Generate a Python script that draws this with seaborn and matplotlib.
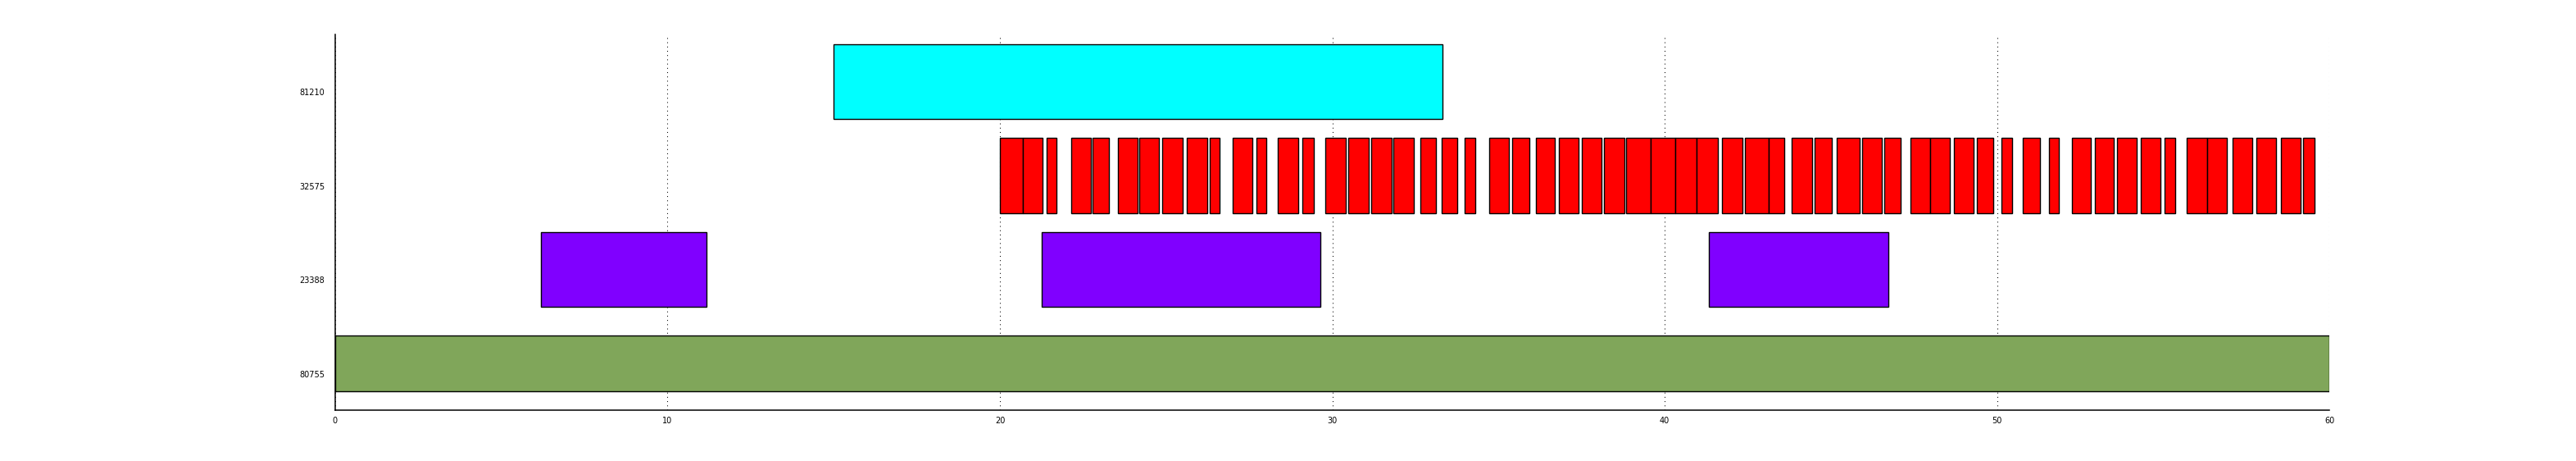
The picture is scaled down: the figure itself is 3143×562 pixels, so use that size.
import seaborn as sns
import matplotlib.pyplot as plt
import matplotlib.transforms as mtransforms

# row labels, bottom to top
rows = ['80755', '23388', '32575', '81210']
row_colors = ['#80A65A', '#8000FF', '#FF0000', '#00FFFF']
row_heights = [0.6, 0.8, 0.8, 0.8]

# intervals (start, end) for each row
green_start = [0.0]
green_end = [60.0]

purple_start = [6.18, 21.26, 41.33]
purple_end = [11.18, 29.65, 46.74]

red_start = [20.00, 20.68, 21.40, 22.15, 22.78, 23.54, 24.19, 24.87, 25.63, 26.30,
             27.00, 27.71, 28.35, 29.09, 29.80, 30.48, 31.18, 31.84, 32.64, 33.28,
             33.99, 34.71, 35.42, 36.12, 36.81, 37.50, 38.17, 38.85, 39.58, 40.32,
             40.96, 41.72, 42.41, 43.12, 43.82, 44.50, 45.18, 45.94, 46.61, 47.40,
             47.98, 48.69, 49.39, 50.13, 50.77, 51.56, 52.24, 52.94, 53.61, 54.33,
             55.04, 55.71, 56.31, 57.09, 57.80, 58.54, 59.21]
red_end = [20.68, 21.29, 21.71, 22.74, 23.28, 24.14, 24.79, 25.49, 26.24, 26.60,
           27.59, 28.01, 28.97, 29.44, 30.40, 31.09, 31.78, 32.44, 33.13, 33.77,
           34.29, 35.32, 35.94, 36.69, 37.41, 38.09, 38.78, 39.58, 40.32, 40.96,
           41.60, 42.35, 43.12, 43.60, 44.44, 45.03, 45.87, 46.53, 47.10, 47.98,
           48.58, 49.30, 49.89, 50.45, 51.30, 51.86, 52.83, 53.52, 54.21, 54.92,
           55.37, 56.31, 56.92, 57.68, 58.40, 59.14, 59.56]

cyan_start = [15.0]
cyan_end = [33.31]

x_ticks = [0, 10, 20, 30, 40, 50, 60]

sns.set_style('white')
plt.rcParams['font.family'] = ['DejaVu Sans']

fig = plt.figure(figsize=(31.43, 5.62), dpi=100)
ax = fig.add_axes([0.1301, 0.110, 0.9043 - 0.1301, 0.925 - 0.110])

intervals = [(green_start, green_end), (purple_start, purple_end),
             (red_start, red_end), (cyan_start, cyan_end)]
for i, (starts, ends) in enumerate(intervals):
    widths = [e - s for s, e in zip(starts, ends)]
    ax.barh([i] * len(starts), widths, left=starts, height=row_heights[i],
            color=row_colors[i], edgecolor='black', linewidth=1.0, zorder=3)

ax.set_xlim(0, 60)
ax.set_ylim(-0.5, 3.5)
ax.set_xticks(x_ticks)
ax.set_xticklabels([str(t) for t in x_ticks], fontsize=7)
ax.set_yticks(range(len(rows)))
ax.set_yticklabels(rows, fontsize=7)

ax.set_axisbelow(True)
ax.grid(axis='x', color='black', linestyle=(0, (1, 4)), linewidth=0.75)
ax.grid(axis='y', visible=False)

ax.tick_params(axis='x', direction='in', length=19, width=1.0, color='black',
               labelcolor='black', pad=5.5)
ax.tick_params(axis='y', length=0, pad=9, labelcolor='black')

# labels sit slightly under the bar centres
offset = mtransforms.ScaledTranslation(0, -13 / 100, fig.dpi_scale_trans)
for lab in ax.get_yticklabels():
    lab.set_transform(lab.get_transform() + offset)

for side in ['top', 'right']:
    ax.spines[side].set_visible(False)
for side in ['left', 'bottom']:
    ax.spines[side].set_color('black')
    ax.spines[side].set_linewidth(1.1)

fig.savefig('out.png', dpi=100, facecolor='white')
